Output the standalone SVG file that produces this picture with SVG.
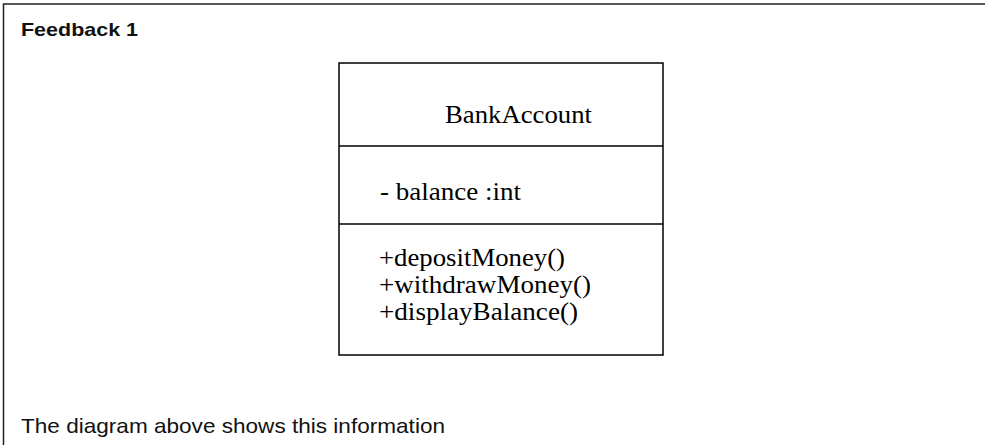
<svg xmlns="http://www.w3.org/2000/svg" width="985" height="445" viewBox="0 0 985 445">
<style>
.frame{fill:none;stroke:#222;stroke-width:1.5}
.sans{font-family:"Liberation Sans","Open Sans",sans-serif;fill:#111}
.uml{font-family:"Liberation Serif","Times New Roman",serif;font-size:25px;fill:#000}
.box{fill:#fff;stroke:#000;stroke-width:1.5}
</style>
<rect width="985" height="445" fill="#fff"/>
<g id="frame">
<polyline class="frame" points="985,4 3.5,4 3.5,445"/>
<text class="sans" x="21" y="36" font-size="19" font-weight="bold" textLength="117" lengthAdjust="spacingAndGlyphs">Feedback 1</text>
<text class="sans" x="21" y="433" font-size="21" textLength="424" lengthAdjust="spacingAndGlyphs">The diagram above shows this information</text>
</g>
<g id="BankAccount">
<rect class="box" x="339" y="63" width="324" height="292"/>
<line class="box" x1="339" y1="146" x2="663" y2="146"/>
<line class="box" x1="339" y1="224" x2="663" y2="224"/>
<text class="uml" x="445" y="123" textLength="147" lengthAdjust="spacingAndGlyphs">BankAccount</text>
<text class="uml" x="380" y="200" textLength="141" lengthAdjust="spacingAndGlyphs">- balance :int</text>
<text class="uml" x="379" y="266" textLength="186" lengthAdjust="spacingAndGlyphs">+depositMoney()</text>
<text class="uml" x="379" y="293" textLength="212" lengthAdjust="spacingAndGlyphs">+withdrawMoney()</text>
<text class="uml" x="379" y="320" textLength="199" lengthAdjust="spacingAndGlyphs">+displayBalance()</text>
</g>
<g id="connectors"/>
</svg>
